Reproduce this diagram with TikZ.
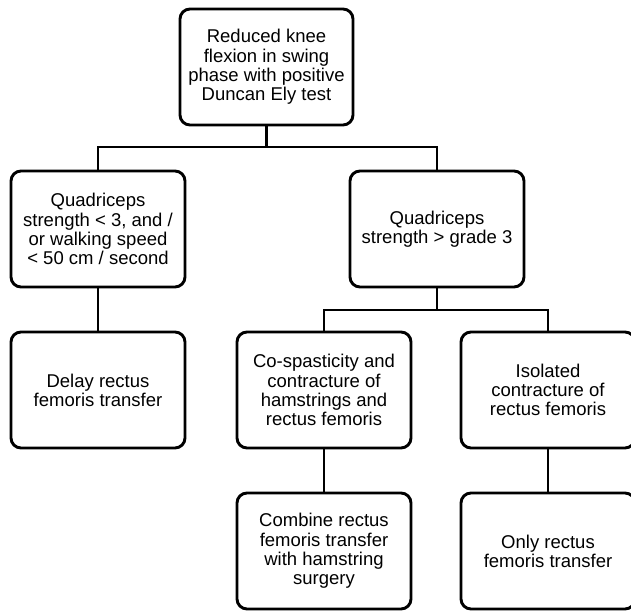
\documentclass[tikz,border=0pt]{standalone}
\usepackage{fontspec}
\setmainfont{Liberation Sans}
\begin{document}
\begin{tikzpicture}[x=1pt,y=-1pt,
  box/.style={draw=black,line width=2.9pt,rounded corners=10pt,fill=white,
    minimum width=174pt,minimum height=116pt,inner sep=0pt,align=center,
    font=\fontsize{18.5pt}{19.2pt}\selectfont},
  link/.style={draw=black,line width=2.9pt}]
\useasboundingbox (0,0) rectangle (631,610);
\node[box,minimum width=173pt] (top) at (266.5,67) {Reduced knee\\flexion in swing\\phase with positive\\Duncan Ely test};
\node[box] (q1) at (98,229) {Quadriceps\\strength {<} 3, and /\\or walking  speed\\{<} 50 cm / second};
\node[box] (q2) at (437,229) {Quadriceps\\strength {>} grade 3};
\node[box] (delay) at (98,390) {Delay rectus\\femoris transfer};
\node[box] (co) at (324,390) {Co-spasticity and\\contracture of\\hamstrings and\\rectus femoris};
\node[box] (iso) at (548,390) {Isolated\\contracture of\\rectus femoris};
\node[box] (comb) at (324,551) {Combine rectus\\femoris transfer\\with hamstring\\surgery};
\node[box] (only) at (548,551) {Only rectus\\femoris transfer};
\coordinate (j1) at (437,147);
\coordinate (j2) at (548,310);
\draw[link] (top.south) -- (top.south |- j1);
\draw[link] (q1.north) |- (j1) -- (q2.north);
\draw[link] (q1.south) -- (delay.north);
\draw[link] (q2.south) -- (q2.south |- j2);
\draw[link] (co.north) |- (j2) -- (iso.north);
\draw[link] (co.south) -- (comb.north);
\draw[link] (iso.south) -- (only.north);
\end{tikzpicture}
\end{document}
